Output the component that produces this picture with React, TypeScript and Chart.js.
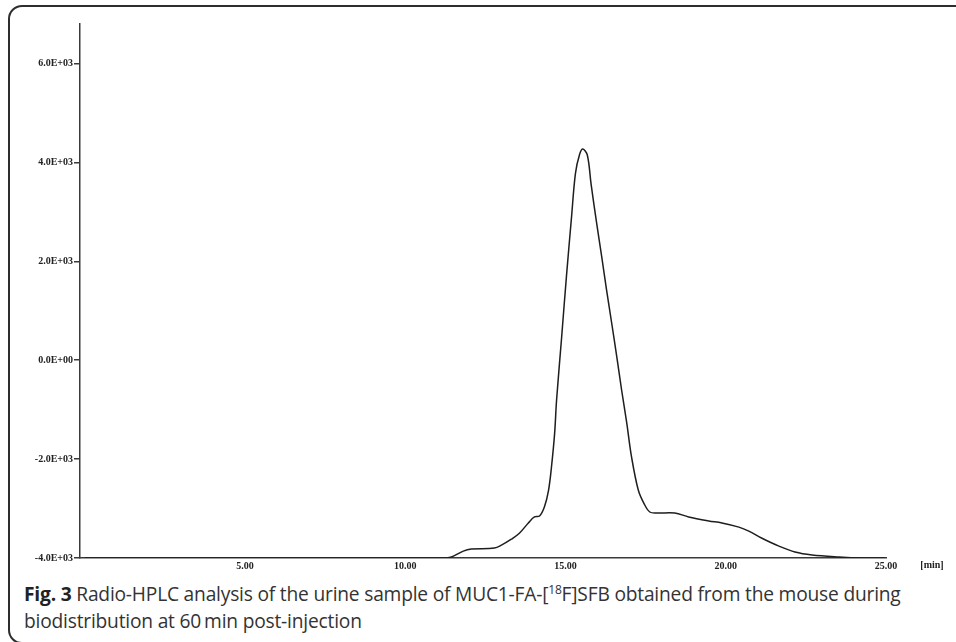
import React, { useEffect, useRef } from "react";
import { Chart, registerables } from "chart.js";

Chart.register(...registerables);

// Retention time (min)
const timeMin: number[] = [
  0, 5, 10, 11.0, 11.28, 11.44, 11.81, 12.06, 12.78, 13.0, 13.31, 13.56, 13.84, 14.03, 14.19, 14.34,
  14.47, 14.56, 14.66, 14.72, 14.875, 15.03, 15.19, 15.31, 15.44, 15.54, 15.68, 15.8, 15.97,
  16.13, 16.28, 16.44, 16.6, 16.75, 16.91, 17.06, 17.27, 17.45, 17.63, 17.85, 18.41, 18.84,
  19.47, 19.88, 20.41, 20.72, 21.13, 21.66, 22.16, 22.69, 23.53, 24.25, 24.97,
];
// Radioactivity signal
const signal: number[] = [
  -4000, -4000, -4000, -4000, -4000, -3980, -3860, -3820, -3800, -3740, -3620, -3500, -3290, -3170, -3150, -2970,
  -2630, -2170, -1480, -815, 435, 1706, 2915, 3780, 4165, 4270, 4150, 3550, 2776,
  2088, 1421, 753, 66, -602, -1269, -1957, -2625, -2900, -3070, -3090, -3090, -3170,
  -3250, -3290, -3375, -3456, -3600, -3760, -3880, -3940, -3980, -4000, -4000,
];
const yTickValues: number[] = [-4000, -2000, 0, 2000, 4000, 6000];
const xTickValues: number[] = [5, 10, 15, 20, 25];
const xUnitLabel = "[min]";

function sci(v: number): string {
  if (v === 0) return "0.0E+00";
  const exp = Math.floor(Math.log10(Math.abs(v)));
  const m = v / Math.pow(10, exp);
  return `${m.toFixed(1)}E${exp < 0 ? "-" : "+"}${String(Math.abs(exp)).padStart(2, "0")}`;
}

const axisColor = "#3a3a3a";
const tickFont = { family: "'Liberation Serif', serif", size: 10, weight: "bold" as const };

export default function App() {
  const ref = useRef<HTMLCanvasElement | null>(null);

  useEffect(() => {
    if (!ref.current) return;
    const unitPlugin = {
      id: "unitLabel",
      afterDraw(chart: any) {
        const { ctx, chartArea } = chart;
        ctx.save();
        ctx.font = "bold 10px 'Liberation Serif', serif";
        ctx.fillStyle = "#222";
        ctx.textAlign = "center";
        ctx.textBaseline = "middle";
        ctx.fillText(xUnitLabel, chartArea.right + 46, chartArea.bottom + 7);
        ctx.restore();
      },
    };
    const chart = new Chart(ref.current, {
      type: "line",
      data: {
        datasets: [
          {
            data: timeMin.map((t, i) => ({ x: t, y: signal[i] })),
            borderColor: "#1e1e1e",
            borderWidth: 1.5,
            pointRadius: 0,
            tension: 0.35,
            fill: false,
          },
        ],
      },
      options: {
        animation: false,
        responsive: false,
        devicePixelRatio: 1,
        layout: { padding: { left: 0, top: 24, right: 70, bottom: 0 } },
        plugins: { legend: { display: false }, tooltip: { enabled: false }, title: { display: false } },
        scales: {
          x: {
            type: "linear",
            min: -0.15,
            max: 25,
            afterFit: (s: any) => {
              s.height = 22;
            },
            afterBuildTicks: (s: any) => {
              s.ticks = xTickValues.map((v) => ({ value: v }));
            },
            ticks: {
              font: tickFont,
              color: "#222",
              padding: 2,
              maxRotation: 0,
              autoSkip: false,
              callback: (v: any) => Number(v).toFixed(2),
            },
            grid: { display: false, drawTicks: false },
            border: { display: true, color: axisColor, width: 1.5 },
          },
          y: {
            type: "linear",
            min: -4000,
            max: 6800,
            afterFit: (s: any) => {
              s.width = 80;
            },
            afterBuildTicks: (s: any) => {
              s.ticks = yTickValues.map((v) => ({ value: v }));
            },
            ticks: {
              font: tickFont,
              color: "#222",
              padding: 1,
              autoSkip: false,
              callback: (v: any) => sci(Number(v)),
            },
            grid: {
              display: true,
              drawOnChartArea: false,
              drawTicks: true,
              tickLength: 6,
              color: axisColor,
              lineWidth: 1.5,
            },
            border: { display: true, color: axisColor, width: 1.5 },
          },
        },
      },
      plugins: [unitPlugin],
    });
    return () => chart.destroy();
  }, []);

  return (
    <div
      style={{
        position: "fixed",
        left: 0,
        top: 0,
        width: 956,
        height: 642,
        overflow: "hidden",
        background: "#fff",
      }}
    >
      <div
        style={{
          position: "absolute",
          left: 8,
          top: 5,
          width: 1100,
          height: 639,
          border: "2px solid #2e2e2e",
          borderRadius: 14,
          boxSizing: "border-box",
        }}
      />
      <canvas
        ref={ref}
        width={956}
        height={580}
        style={{ position: "absolute", left: 0, top: 0, width: 956, height: 580 }}
      />
      <div
        style={{
          position: "absolute",
          left: 24,
          top: 580,
          width: 920,
          fontFamily: "'Open Sans', sans-serif",
          fontSize: 19.2,
          letterSpacing: -0.2,
          lineHeight: "27px",
          color: "#333",
        }}
      >
        <b style={{ color: "#222" }}>Fig. 3</b> Radio-HPLC analysis of the urine sample of MUC1-FA-[
        <sup style={{ fontSize: 12, lineHeight: 0 }}>18</sup>F]SFB obtained from the mouse during
        <br />
        biodistribution at 60{"\u2009"}min post-injection
      </div>
    </div>
  );
}
